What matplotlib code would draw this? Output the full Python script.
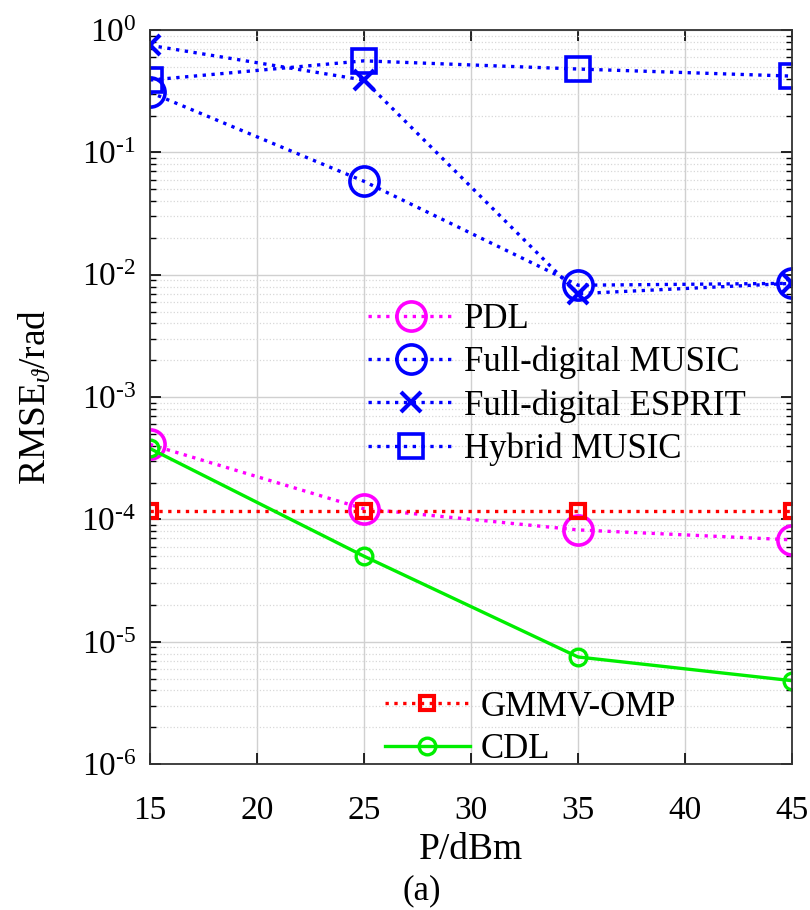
import numpy as np
import matplotlib
matplotlib.use("Agg")
import matplotlib.pyplot as plt
from matplotlib.ticker import FuncFormatter

plt.rcParams['font.family'] = ['Liberation Serif', 'DejaVu Serif']
plt.rcParams['mathtext.fontset'] = 'custom'
plt.rcParams['mathtext.rm'] = 'Liberation Serif'
plt.rcParams['mathtext.it'] = 'Liberation Serif:italic'

power = [15, 25, 35, 45]
pdl = [4.1e-4, 1.22e-4, 8.2e-5, 6.8e-5]
fd_music = [0.31, 0.058, 0.0082, 0.0085]
fd_esprit = [0.75, 0.39, 0.0070, 0.0085]
hybrid_music = [0.39, 0.56, 0.48, 0.42]
gmmv_omp = [1.18e-4, 1.18e-4, 1.18e-4, 1.18e-4]
cdl = [3.8e-4, 5.0e-5, 7.5e-6, 4.8e-6]

fig = plt.figure(figsize=(8.1, 9.1), dpi=100)
ax = fig.add_axes([0.185, 0.1604, 0.793, 0.8066])

lw = 2.4
h1, = ax.plot(power, pdl, ':', color='#ff00ff', lw=lw, marker='o', ms=21,
              mfc='none', mew=2.6, label='PDL')
h2, = ax.plot(power, fd_music, ':', color='#0000ff', lw=lw, marker='o', ms=21,
              mfc='none', mew=2.6, label='Full-digital MUSIC')
h3, = ax.plot(power, fd_esprit, ':', color='#0000ff', lw=lw, marker='x', ms=14,
              mew=3, label='Full-digital ESPRIT')
h4, = ax.plot(power, hybrid_music, ':', color='#0000ff', lw=lw, marker='s', ms=17,
              mfc='none', mew=2.6, label='Hybrid MUSIC')
h5, = ax.plot(power, gmmv_omp, ':', color='#ff0000', lw=lw, marker='s', ms=10,
              mfc='none', mew=3, label='GMMV-OMP')
h6, = ax.plot(power, cdl, '-', color='#00ee00', lw=lw, marker='o', ms=12,
              mfc='none', mew=2.4, label='CDL')

ax.set_yscale('log')
ax.set_xlim(15, 45)
ax.set_ylim(1e-6, 1)
ax.set_xticks([15, 20, 25, 30, 35, 40, 45])
ax.set_yticks([1e-6, 1e-5, 1e-4, 1e-3, 1e-2, 1e-1, 1])
ax.yaxis.set_major_formatter(FuncFormatter(
    lambda v, p: r'$10^{\text{%d}}$' % round(np.log10(v))))
ax.grid(True, which='major', color='#d0d0d0', lw=1.0)
ax.grid(True, which='minor', color='#d8d8d8', lw=0.9, ls=':')
ax.tick_params(which='both', direction='in', top=True, right=True, labelsize=24)
ax.tick_params(axis='x', which='major', pad=23)
ax.tick_params(axis='y', which='major', pad=10)
ax.tick_params(which='major', length=8, width=1.2)
ax.tick_params(which='minor', length=4, width=1.0)
for s in ax.spines.values():
    s.set_linewidth(1.3)
    s.set_color('#333333')

ax.set_xlabel('P/dBm', fontsize=27, labelpad=4)
ax.set_ylabel(r'RMSE$_\vartheta$/rad', fontsize=27, labelpad=20)

leg1 = ax.legend(handles=[h1, h2, h3, h4], loc='upper left',
                 bbox_to_anchor=(0.34, 0.628), frameon=False, fontsize=25,
                 handlelength=2.45, labelspacing=0.28, handletextpad=0.3,
                 borderpad=0, borderaxespad=0)
ax.add_artist(leg1)
ax.legend(handles=[h5, h6], loc='upper left', bbox_to_anchor=(0.366, 0.1),
          frameon=False, fontsize=25, handlelength=2.45, labelspacing=0.28,
          handletextpad=0.3, borderpad=0, borderaxespad=0)

fig.text(0.521, 0.012, '(a)', ha='center', fontsize=25)

fig.savefig('out.png', dpi=100)
